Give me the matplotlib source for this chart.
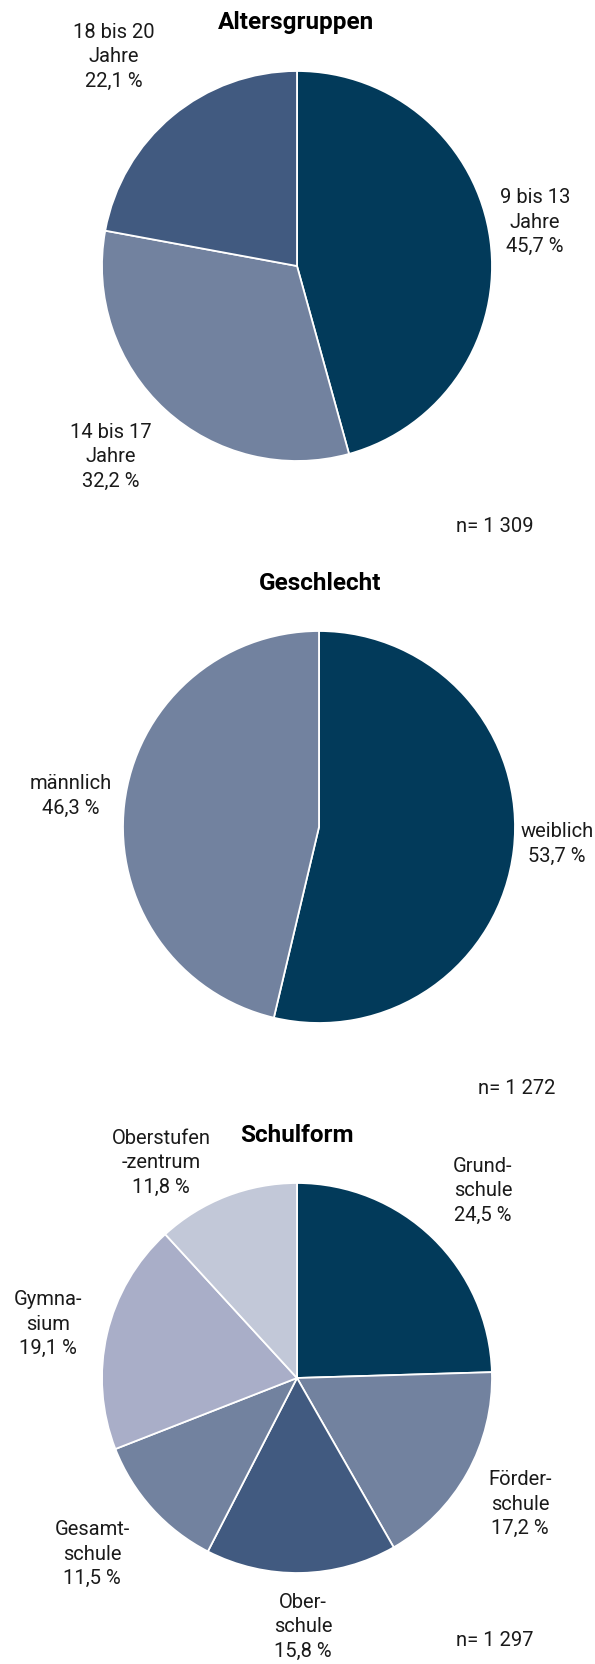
import matplotlib
matplotlib.use("Agg")
import matplotlib.pyplot as plt

# Daten
alter_labels = ["9 bis 13\nJahre", "14 bis 17\nJahre", "18 bis 20\nJahre"]
alter_werte = [45.7, 32.2, 22.1]
alter_n = "n= 1 309"

geschlecht_labels = ["weiblich", "männlich"]
geschlecht_werte = [53.7, 46.3]
geschlecht_n = "n= 1 272"

schule_labels = ["Grund-\nschule", "Förder-\nschule", "Ober-\nschule",
                 "Gesamt-\nschule", "Gymna-\nsium", "Oberstufen\n-zentrum"]
schule_werte = [24.5, 17.2, 15.8, 11.5, 19.1, 11.8]
schule_n = "n= 1 297"

# Farben
DUNKEL = "#023a5a"
MITTEL = "#415a80"
GRAU = "#72829f"
HELL = "#a9aec8"
HELLER = "#c2c8d8"

W, H = 595, 1664
plt.rcParams["font.family"] = ["Roboto", "DejaVu Sans"]

fig = plt.figure(figsize=(W / 100, H / 100), dpi=100)


def px(x, y):
    return x / W, 1 - y / H


def torte(mitte, r, werte, farben, titel, titel_pos, labels, label_pos, n, n_pos):
    cx, cy = mitte
    ax = fig.add_axes([(cx - r) / W, 1 - (cy + r) / H, 2 * r / W, 2 * r / H])
    ax.pie(werte, colors=farben, startangle=90, counterclock=False,
           wedgeprops=dict(edgecolor="white", linewidth=1.3))
    ax.set_xlim(-1, 1)
    ax.set_ylim(-1, 1)
    ax.set_aspect("equal")
    ax.axis("off")

    fig.text(*px(*titel_pos), titel, ha="center", va="center",
             fontsize=17.5, fontweight="bold", color="black")
    for lab, wert, pos in zip(labels, werte, label_pos):
        txt = f"{lab}\n{wert:.1f} %".replace(".", ",")
        fig.text(*px(*pos), txt, ha="center", va="center", fontsize=14.5,
                 fontweight="normal", color="#1a1a1a", linespacing=1.38)
    fig.text(*px(*n_pos), n, ha="center", va="center", fontsize=14.5,
             fontweight="normal", color="#1a1a1a")


torte((297, 266), 195, alter_werte, [DUNKEL, GRAU, MITTEL],
      "Altersgruppen", (296, 22), alter_labels,
      [(535, 222), (111, 457), (114, 57)], alter_n, (495, 527))

torte((319, 827), 196, geschlecht_werte, [DUNKEL, GRAU],
      "Geschlecht", (320, 584), geschlecht_labels,
      [(557, 844), (71, 796)], geschlecht_n, (517, 1089))

torte((297, 1378), 195, schule_werte, [DUNKEL, GRAU, MITTEL, GRAU, HELL, HELLER],
      "Schulform", (297, 1136), schule_labels,
      [(483, 1191), (520, 1504), (303, 1627), (92, 1554), (48, 1324), (161, 1163)],
      schule_n, (495, 1640))

fig.savefig("out.png", dpi=100, facecolor="white")
